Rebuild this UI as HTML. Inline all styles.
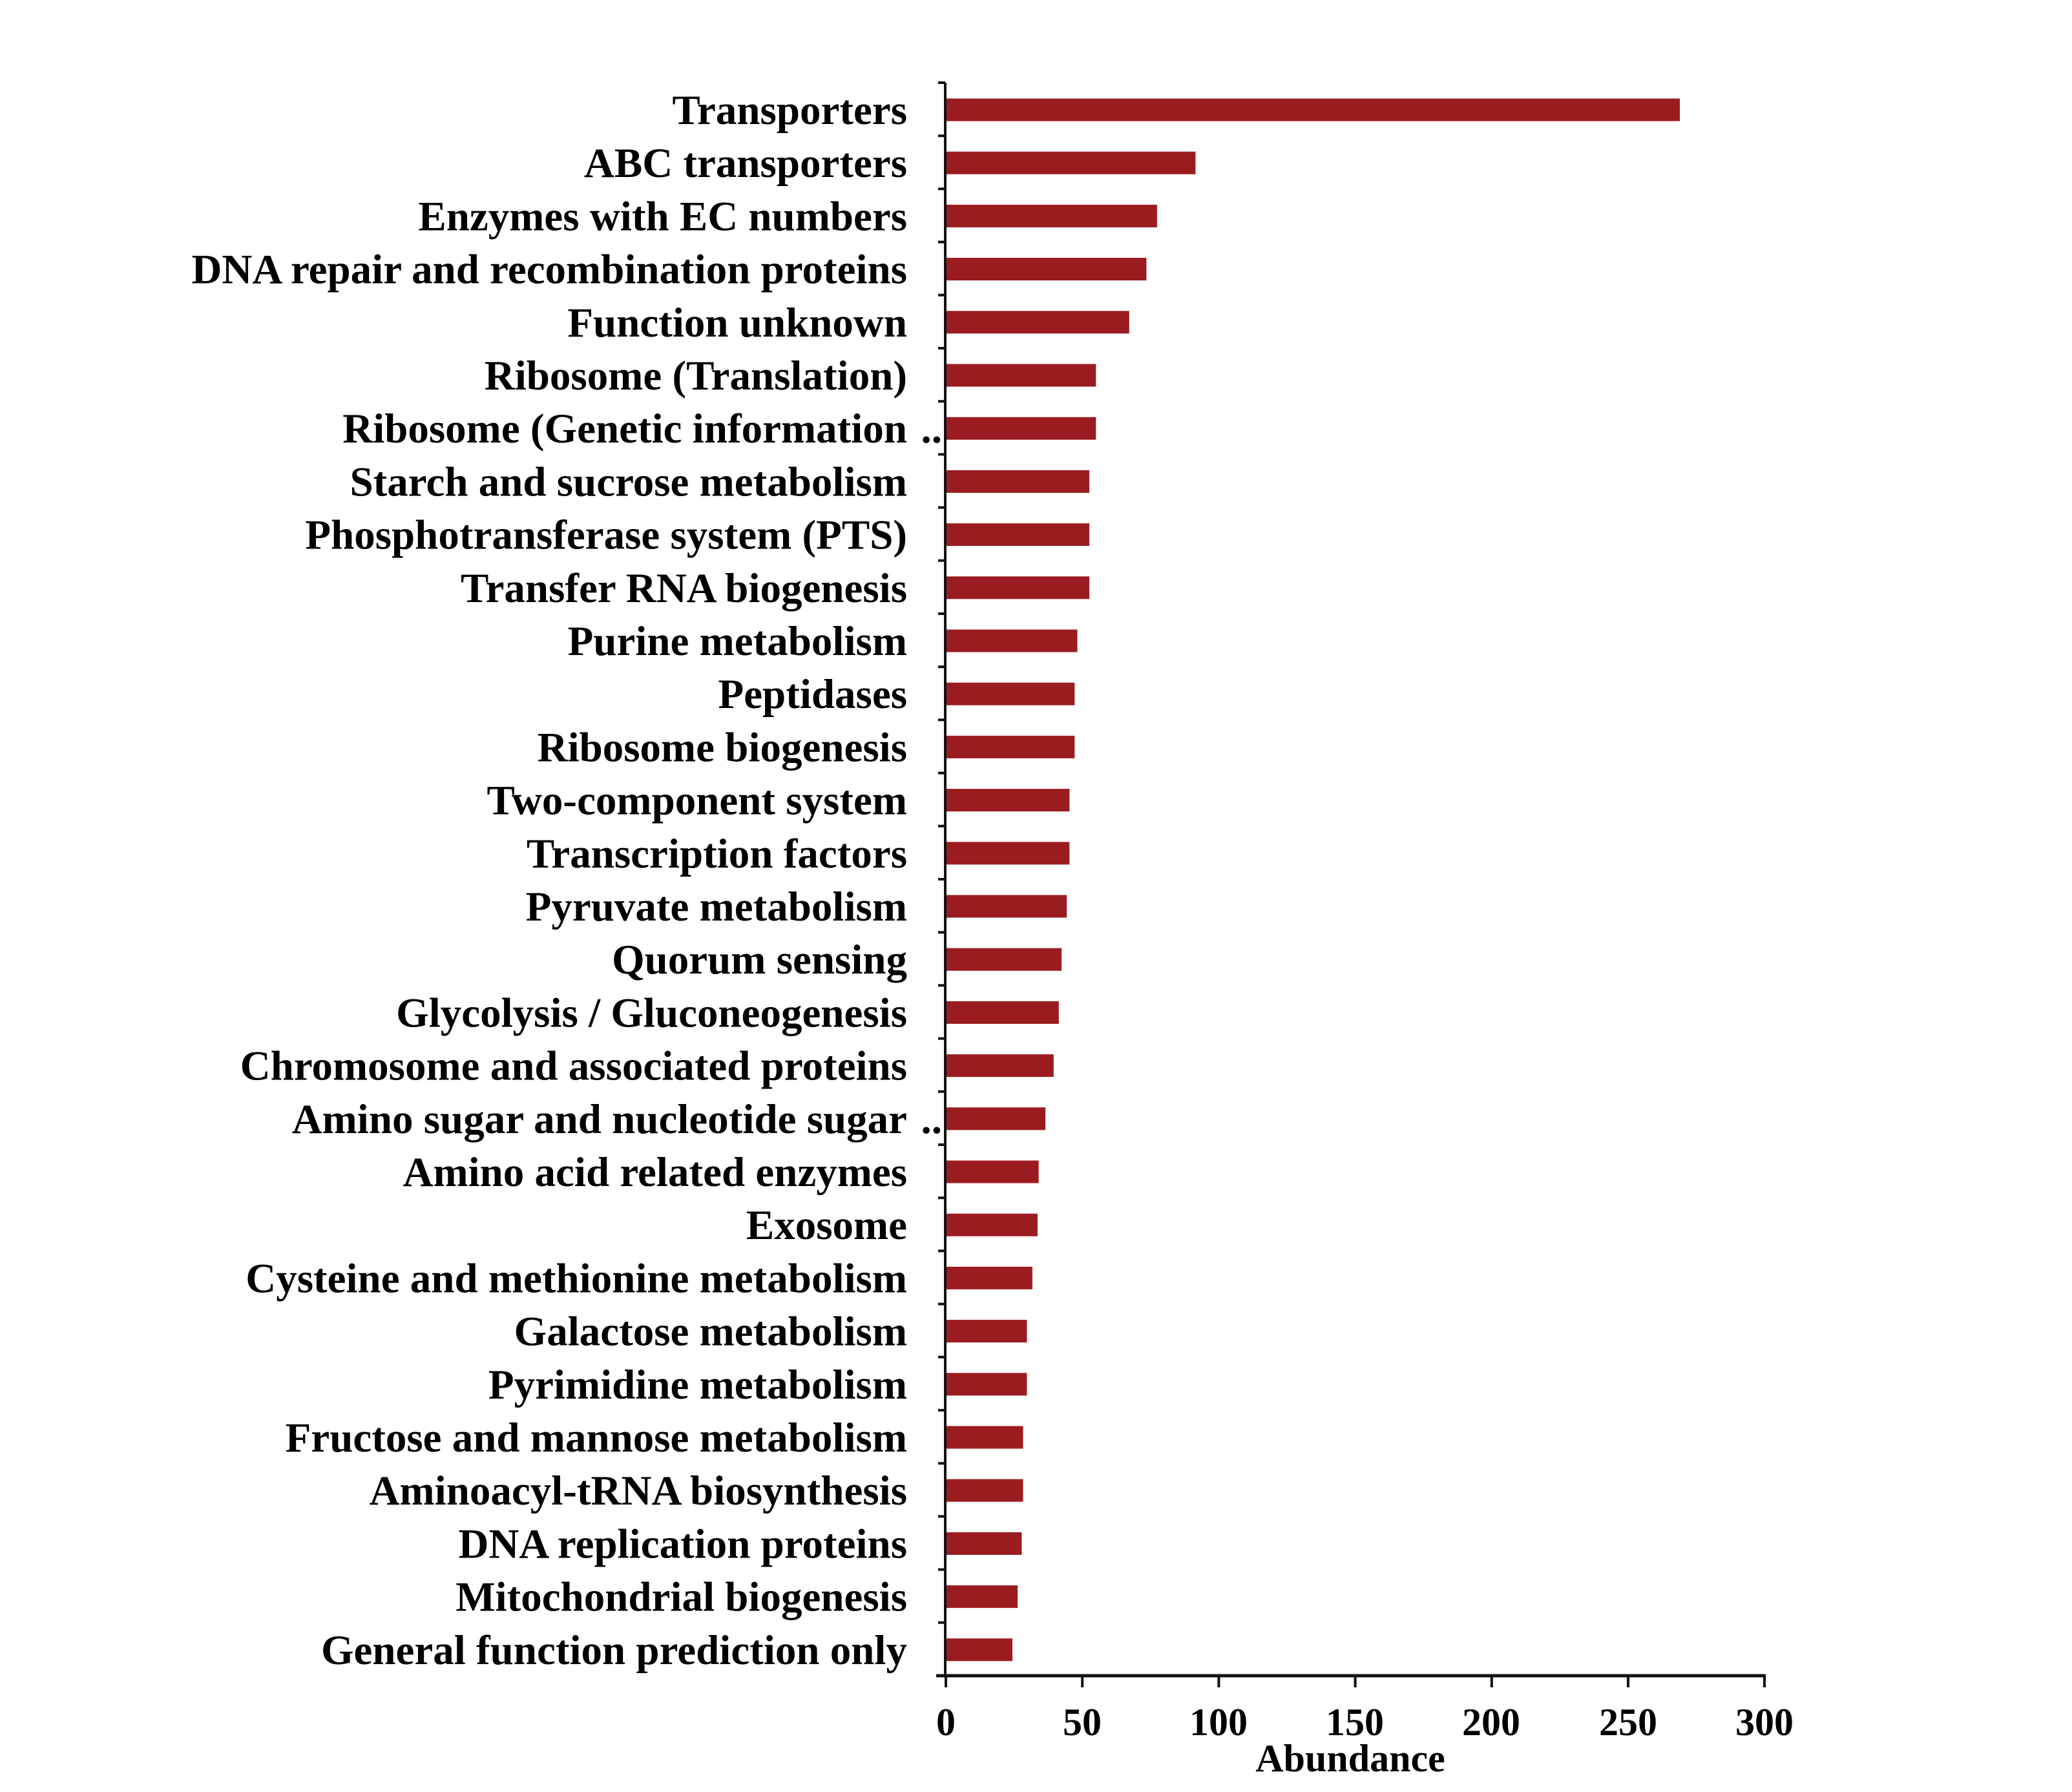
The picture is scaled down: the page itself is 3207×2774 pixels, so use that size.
<!DOCTYPE html>
<html><head><meta charset="utf-8"><style>
html,body{margin:0;padding:0;background:#fff;}
svg{display:block;}
text{font-family:"Liberation Serif",serif;font-weight:bold;fill:#000;}
</style></head><body>
<svg width="3207" height="2774" viewBox="0 0 3207 2774" xmlns="http://www.w3.org/2000/svg">
<g fill="#9b1c20">
<rect x="1464" y="152.5" width="1136" height="35"/>
<rect x="1464" y="234.7" width="386.4" height="35"/>
<rect x="1464" y="316.9" width="326.9" height="35"/>
<rect x="1464" y="399.1" width="310.4" height="35"/>
<rect x="1464" y="481.3" width="283.8" height="35"/>
<rect x="1464" y="563.5" width="232.3" height="35"/>
<rect x="1464" y="645.7" width="232.3" height="35"/>
<rect x="1464" y="727.9" width="222.1" height="35"/>
<rect x="1464" y="810.1" width="222.1" height="35"/>
<rect x="1464" y="892.3" width="222.1" height="35"/>
<rect x="1464" y="974.5" width="203.5" height="35"/>
<rect x="1464" y="1056.7" width="199.3" height="35"/>
<rect x="1464" y="1138.9" width="199.3" height="35"/>
<rect x="1464" y="1221.1" width="191.3" height="35"/>
<rect x="1464" y="1303.3" width="191.3" height="35"/>
<rect x="1464" y="1385.5" width="187.1" height="35"/>
<rect x="1464" y="1467.7" width="179.1" height="35"/>
<rect x="1464" y="1549.9" width="174.8" height="35"/>
<rect x="1464" y="1632.1" width="166.8" height="35"/>
<rect x="1464" y="1714.3" width="154.1" height="35"/>
<rect x="1464" y="1796.5" width="143.6" height="35"/>
<rect x="1464" y="1878.7" width="141.9" height="35"/>
<rect x="1464" y="1960.9" width="133.9" height="35"/>
<rect x="1464" y="2043.1" width="125.4" height="35"/>
<rect x="1464" y="2125.3" width="125.4" height="35"/>
<rect x="1464" y="2207.5" width="119.5" height="35"/>
<rect x="1464" y="2289.7" width="119.5" height="35"/>
<rect x="1464" y="2371.9" width="117.4" height="35"/>
<rect x="1464" y="2454.1" width="111.1" height="35"/>
<rect x="1464" y="2536.3" width="103.0" height="35"/>
</g>
<g font-size="65" text-anchor="end">
<text x="1404" y="192">Transporters</text>
<text x="1404" y="274.2">ABC transporters</text>
<text x="1404" y="356.4">Enzymes with EC numbers</text>
<text x="1404" y="438.6">DNA repair and recombination proteins</text>
<text x="1404" y="520.8">Function unknown</text>
<text x="1404" y="603">Ribosome (Translation)</text>
<text x="1404" y="685.2">Ribosome (Genetic information</text>
<text x="1458" y="685.2">..</text>
<text x="1404" y="767.4">Starch and sucrose metabolism</text>
<text x="1404" y="849.6">Phosphotransferase system (PTS)</text>
<text x="1404" y="931.8">Transfer RNA biogenesis</text>
<text x="1404" y="1014">Purine metabolism</text>
<text x="1404" y="1096.2">Peptidases</text>
<text x="1404" y="1178.4">Ribosome biogenesis</text>
<text x="1404" y="1260.6">Two-component system</text>
<text x="1404" y="1342.8">Transcription factors</text>
<text x="1404" y="1425">Pyruvate metabolism</text>
<text x="1404" y="1507.2">Quorum sensing</text>
<text x="1404" y="1589.4">Glycolysis / Gluconeogenesis</text>
<text x="1404" y="1671.6">Chromosome and associated proteins</text>
<text x="1404" y="1753.8">Amino sugar and nucleotide sugar</text>
<text x="1458" y="1753.8">..</text>
<text x="1404" y="1836">Amino acid related enzymes</text>
<text x="1404" y="1918.2">Exosome</text>
<text x="1404" y="2000.4">Cysteine and methionine metabolism</text>
<text x="1404" y="2082.6">Galactose metabolism</text>
<text x="1404" y="2164.8">Pyrimidine metabolism</text>
<text x="1404" y="2247">Fructose and mannose metabolism</text>
<text x="1404" y="2329.2">Aminoacyl-tRNA biosynthesis</text>
<text x="1404" y="2411.4">DNA replication proteins</text>
<text x="1404" y="2493.6">Mitochondrial biogenesis</text>
<text x="1404" y="2575.8">General function prediction only</text>
</g>
<line x1="1463" y1="128" x2="1463" y2="2596" stroke="#111" stroke-width="4"/>
<line x1="1449" y1="2594" x2="2733" y2="2594" stroke="#111" stroke-width="5"/>
<path stroke="#111" stroke-width="4" fill="none" d="M1452 128H1463M1452 210.2H1463M1452 292.4H1463M1452 374.6H1463M1452 456.8H1463M1452 539H1463M1452 621.2H1463M1452 703.4H1463M1452 785.6H1463M1452 867.8H1463M1452 950H1463M1452 1032.2H1463M1452 1114.4H1463M1452 1196.6H1463M1452 1278.8H1463M1452 1361H1463M1452 1443.2H1463M1452 1525.4H1463M1452 1607.6H1463M1452 1689.8H1463M1452 1772H1463M1452 1854.2H1463M1452 1936.4H1463M1452 2018.6H1463M1452 2100.8H1463M1452 2183H1463M1452 2265.2H1463M1452 2347.4H1463M1452 2429.6H1463M1452 2511.8H1463M1464 2594V2612M1675.2 2594V2612M1886.4 2594V2612M2097.6 2594V2612M2308.8 2594V2612M2520 2594V2612M2731 2594V2612"/>
<g font-size="60" text-anchor="middle">
<text x="1464" y="2686">0</text><text x="1675" y="2686">50</text><text x="1886" y="2686">100</text><text x="2097" y="2686">150</text><text x="2308" y="2686">200</text><text x="2520" y="2686">250</text><text x="2731" y="2686">300</text>
<text x="2090" y="2742">Abundance</text>
</g>
</svg>
</body></html>
